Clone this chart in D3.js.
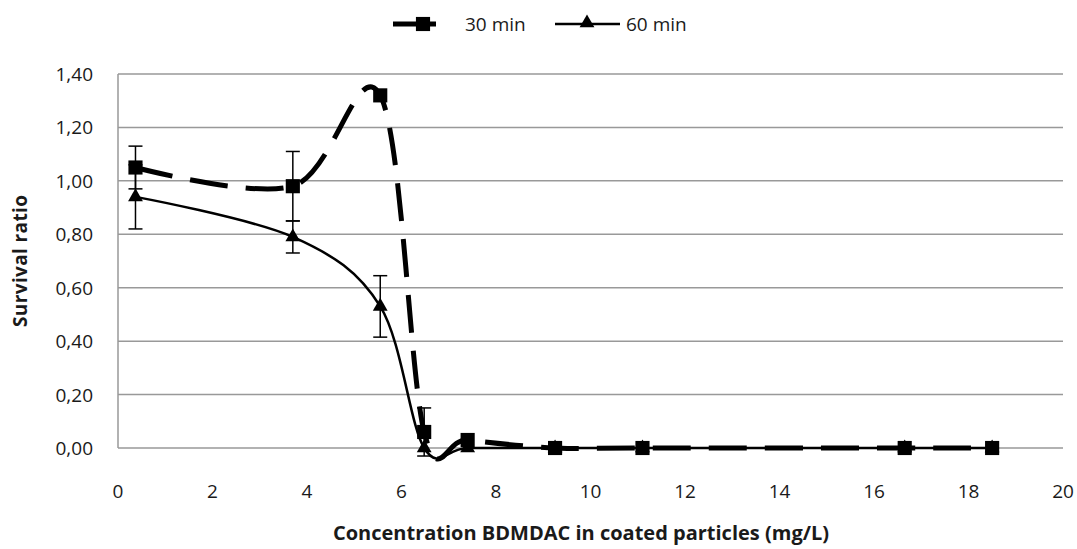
<!DOCTYPE html>
<html>
<head>
<meta charset="utf-8">
<script src="https://cdn.jsdelivr.net/npm/d3@7"></script>
<style>
  body { margin: 0; background: #fff; }
  text { font-family: "Open Sans", "Liberation Sans", sans-serif; fill: #1a1a1a; }
</style>
</head>
<body>
<div id="chart"></div>
<script>
// concentrations (mg/L)
const conc = [0.37, 3.7, 5.55, 6.48, 7.4, 9.25, 11.1, 16.65, 18.5];
// survival ratio, 30 min
const surv30 = [1.05, 0.98, 1.32, 0.06, 0.03, 0, 0, 0, 0];
const err30 = [0.08, 0.13, 0, 0.09, 0, 0, 0, 0, 0];
// survival ratio, 60 min
const surv60 = [0.94, 0.79, 0.53, 0, 0, 0, 0, 0, 0];
const err60 = [0.12, 0.06, 0.115, 0, 0, 0, 0, 0, 0];

const xTicks = d3.range(0, 21, 2);
const yTicks = d3.range(0, 1.41, 0.2);
const seriesNames = ['30 min', '60 min'];

const width = 1077, height = 549;
const margin = {top: 74, right: 14, bottom: 101, left: 118};

const svg = d3.select('#chart').append('svg')
    .attr('width', width)
    .attr('height', height);

const x = d3.scaleLinear().domain([0, 20]).range([margin.left, width - margin.right]);
const y = d3.scaleLinear().domain([0, 1.4]).range([height - margin.bottom, margin.top]);

const fmt = d => d.toFixed(2).replace('.', ',');

// gridlines
svg.append('g').selectAll('line')
    .data(yTicks.slice(1)).enter()
    .append('line')
    .attr('x1', x(0)).attr('x2', x(20))
    .attr('y1', d => y(d)).attr('y2', d => y(d))
    .attr('stroke', '#999').attr('stroke-width', 1.5);

// axes lines
svg.append('line')
    .attr('x1', x(0)).attr('x2', x(0)).attr('y1', y(0)).attr('y2', y(1.4))
    .attr('stroke', '#999').attr('stroke-width', 1.5);
svg.append('line')
    .attr('x1', x(0)).attr('x2', x(20)).attr('y1', y(0)).attr('y2', y(0))
    .attr('stroke', '#999').attr('stroke-width', 1.5);

// tick labels
svg.append('g').selectAll('text')
    .data(yTicks).enter()
    .append('text')
    .attr('x', x(0) - 25).attr('y', d => y(d) + 7)
    .attr('text-anchor', 'end')
    .style('font-size', '19px')
    .text(fmt);

svg.append('g').selectAll('text')
    .data(xTicks).enter()
    .append('text')
    .attr('x', d => x(d)).attr('y', y(0) + 50)
    .attr('text-anchor', 'middle')
    .style('font-size', '19px')
    .text(d => d);

// axis titles
svg.append('text')
    .attr('transform', 'translate(27,261) rotate(-90)')
    .attr('text-anchor', 'middle')
    .attr('textLength', 132).attr('lengthAdjust', 'spacing')
    .style('font-size', '19px').style('font-weight', 'bold')
    .text('Survival ratio');

svg.append('text')
    .attr('x', 581).attr('y', 540)
    .attr('text-anchor', 'middle')
    .style('font-size', '20px').style('font-weight', 'bold')
    .text('Concentration BDMDAC in coated particles (mg/L)');

const curve = d3.curveCardinal.tension(0);
const line = d3.line()
    .x(d => x(d[0]))
    .y(d => y(d[1]))
    .curve(curve);

const data30 = conc.map((c, i) => [c, surv30[i], err30[i]]);
const data60 = conc.map((c, i) => [c, surv60[i], err60[i]]);

// error bars
function errorBars(data) {
    const g = svg.append('g').attr('stroke', '#000').attr('stroke-width', 1.5);
    data.filter(d => d[2] > 0).forEach(d => {
        const cx = x(d[0]);
        g.append('line').attr('x1', cx).attr('x2', cx)
            .attr('y1', y(d[1] - d[2])).attr('y2', y(d[1] + d[2]));
        [d[1] - d[2], d[1] + d[2]].forEach(v => {
            g.append('line').attr('x1', cx - 7).attr('x2', cx + 7)
                .attr('y1', y(v)).attr('y2', y(v));
        });
    });
}
errorBars(data30);
errorBars(data60);

// lines
svg.append('path')
    .datum(data60)
    .attr('d', line)
    .attr('fill', 'none')
    .attr('stroke', '#000')
    .attr('stroke-width', 2.5);

svg.append('path')
    .datum(data30)
    .attr('d', line)
    .attr('fill', 'none')
    .attr('stroke', '#000')
    .attr('stroke-width', 5)
    .attr('stroke-dasharray', '38,18');

// markers
const sq = d3.symbol().type(d3.symbolSquare).size(200);
const tri = d3.symbol().type(d3.symbolTriangle).size(95);

svg.append('g').selectAll('path')
    .data(data60).enter()
    .append('path')
    .attr('d', tri)
    .attr('transform', d => 'translate(' + x(d[0]) + ',' + y(d[1]) + ')')
    .attr('fill', '#000');

svg.append('g').selectAll('path')
    .data(data30).enter()
    .append('path')
    .attr('d', sq)
    .attr('transform', d => 'translate(' + x(d[0]) + ',' + y(d[1]) + ')')
    .attr('fill', '#000');

// legend
const leg = svg.append('g');
leg.append('line')
    .attr('x1', 393).attr('x2', 436).attr('y1', 24).attr('y2', 24)
    .attr('stroke', '#000').attr('stroke-width', 5);
leg.append('path').attr('d', sq).attr('transform', 'translate(423,24)').attr('fill', '#000');
leg.append('text').attr('x', 465).attr('y', 31).style('font-size', '19px').text(seriesNames[0]);
leg.append('line')
    .attr('x1', 555).attr('x2', 620).attr('y1', 24).attr('y2', 24)
    .attr('stroke', '#000').attr('stroke-width', 2.5);
leg.append('path').attr('d', tri).attr('transform', 'translate(587,23)').attr('fill', '#000');
leg.append('text').attr('x', 626).attr('y', 31).style('font-size', '19px').text(seriesNames[1]);
</script>
</body>
</html>
